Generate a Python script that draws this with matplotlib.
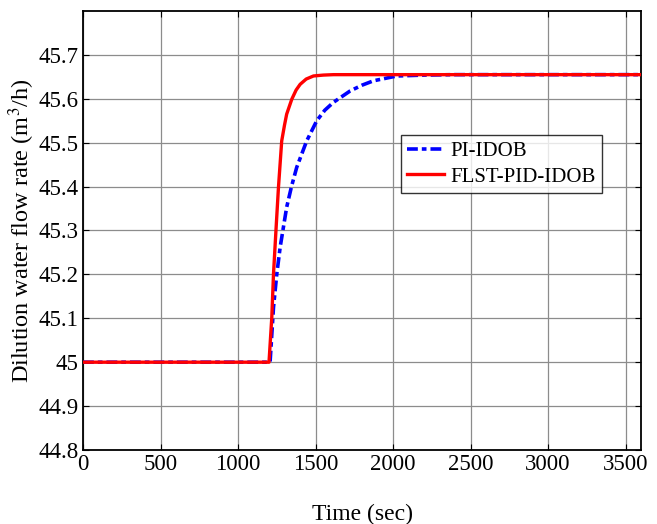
import matplotlib.pyplot as plt
import numpy as np

plt.rcParams['font.family'] = ['Liberation Serif', 'DejaVu Serif']
plt.rcParams['mathtext.fontset'] = 'stix'

# red response (FLST-PID-IDOB)
t_red = [0, 1200, 1218, 1229, 1246, 1261, 1282, 1300, 1314, 1347, 1375, 1401, 1440, 1487, 1550, 1616, 2500, 3600]
y_red = [45.0, 45.0, 45.102, 45.201, 45.307, 45.398, 45.504, 45.540, 45.565, 45.599, 45.620, 45.633, 45.645, 45.652, 45.654, 45.655, 45.655, 45.655]

# blue response (PI-IDOB)
t_blue = [0, 1207, 1229, 1250, 1272, 1314, 1345, 1379, 1443, 1508, 1560, 1616, 1724, 1800, 1874, 2025, 2200, 2388, 3600]
y_blue = [45.0, 45.0, 45.125, 45.200, 45.262, 45.353, 45.400, 45.444, 45.504, 45.550, 45.574, 45.592, 45.618, 45.631, 45.641, 45.652, 45.654, 45.655, 45.655]

fig = plt.figure(figsize=(6.57, 5.24), dpi=100)
ax = fig.add_axes([83 / 657, 1 - 450 / 524, (641 - 83) / 657, (450 - 11) / 524])

ax.plot(t_blue, y_blue, color='#0000ff', lw=2.6, linestyle=(0, (3.0, 1.1, 1.3, 1.1)), label='PI-IDOB', zorder=3)
ax.plot(t_red, y_red, color='#ff0000', lw=2.4, label='FLST-PID-IDOB', zorder=4)

ax.set_xlim(0, 3600)
ax.set_ylim(44.8, 45.8)
ax.set_xticks(np.arange(0, 3501, 500))
ax.set_yticks(np.arange(44.8, 45.71, 0.1))
ax.set_yticklabels(['44.8', '44.9', '45', '45.1', '45.2', '45.3', '45.4', '45.5', '45.6', '45.7'])
ax.tick_params(direction='in', length=4, labelsize=16.5, top=True, right=True, pad=3)
ax.grid(True, color='#8c8c8c', lw=0.9)
for s in ax.spines.values():
    s.set_linewidth(1.3)

ax.set_xlabel('Time (sec)', fontsize=17, labelpad=21)
ax.set_ylabel('Dilution water flow rate (m$^3$/h)', fontsize=17.5)
ax.yaxis.set_label_coords(-0.082, 0.5)

leg = ax.legend(loc='upper left', bbox_to_anchor=((401 - 83) / 558, 1 - (135 - 11) / 439),
                fontsize=15, frameon=True, fancybox=False, edgecolor='black',
                borderpad=0.3, labelspacing=0.3, handlelength=1.75, handletextpad=0.3, borderaxespad=0)
leg.get_frame().set_linewidth(1.0)

fig.savefig('out.png', dpi=100)
